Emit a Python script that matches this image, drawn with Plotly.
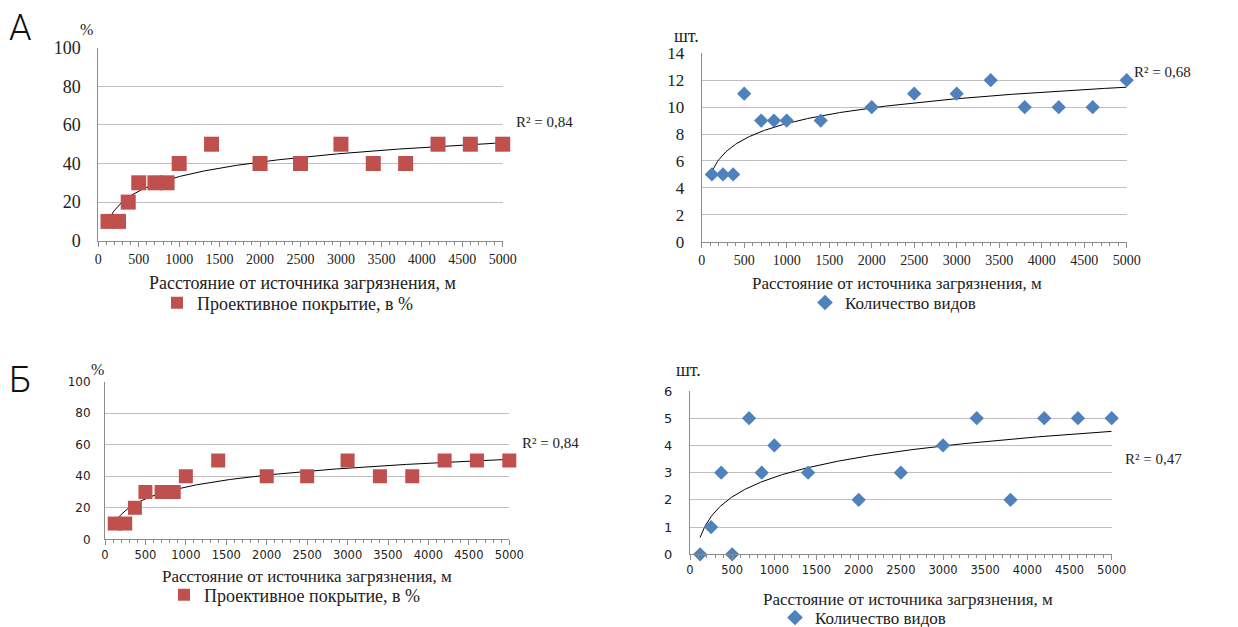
import numpy as np
import plotly.graph_objects as go

# page body has an 8px margin in the browser: the figure starts at (8, 8)
OFF = 8
W, H = 1238 - OFF, 627 - OFF

# ---------------- data ----------------
distance = [120, 250, 370, 500, 700, 850, 1000, 1400, 2000, 2500, 3000, 3400, 3800, 4200, 4600, 5000]
cover_A = [10, 10, 20, 30, 30, 30, 40, 50, 40, 40, 50, 40, 40, 50, 50, 50]
species_A = [5, 5, 5, 11, 9, 9, 9, 9, 10, 11, 11, 12, 10, 10, 10, 12]
cover_B = [10, 10, 20, 30, 30, 30, 40, 50, 40, 40, 50, 40, 40, 50, 50, 50]
species_B = [0, 1, 3, 0, 5, 3, 4, 3, 2, 3, 4, 5, 2, 5, 5, 5]
r2_labels = ["R² = 0,84", "R² = 0,68", "R² = 0,84", "R² = 0,47"]
x_ticks = list(range(0, 5001, 500))

RED = "#C0504D"
BLUE = "#4F81BD"
GRID = "#BFBFBF"
AXLINE = "#8C8C8C"
SERIF = "Liberation Serif"
SANS = "DejaVu Sans"


def px_x(p):
    return (p - OFF) / W


def px_y(p):
    return 1 - (p - OFF) / H


fig = go.Figure()

panels = [
    dict(y=cover_A, name="Проективное покрытие, в %", color=RED, symbol="square", size=15,
         dx=(98.3, 502.7), dy=(47.7, 240.7), ymax=100, ydt=20,
         xfont=dict(family=SERIF, size=14, color="#222"), yfont=dict(family=SERIF, size=18, color="#222"),
         ystand=13),
    dict(y=species_A, name="Количество видов", color=BLUE, symbol="diamond", size=11,
         dx=(701.7, 1126.7), dy=(53.3, 241.7), ymax=14, ydt=2,
         xfont=dict(family=SERIF, size=14, color="#222"), yfont=dict(family=SERIF, size=17, color="#222"),
         ystand=13),
    dict(y=cover_B, name="Проективное покрытие, в %", color=RED, symbol="square", size=14,
         dx=(105, 509.3), dy=(381.7, 539.3), ymax=100, ydt=20,
         xfont=dict(family=SANS, size=11.5, color="#222"), yfont=dict(family=SANS, size=12, color="#222"),
         ystand=11),
    dict(y=species_B, name="Количество видов", color=BLUE, symbol="diamond", size=11,
         dx=(690, 1111.7), dy=(391, 554.3), ymax=6, ydt=1,
         xfont=dict(family=SANS, size=11.5, color="#222"), yfont=dict(family=SANS, size=13, color="#222"),
         ystand=14),
]

legend_pos = [(177, 303), (825, 303), (184, 595), (795, 618)]
legend_font = [18, 17, 18, 17]
xtitle_pos = [(302, 283), (897, 283), (307, 576), (908, 599)]
xtitle_size = [18, 17, 17, 17]
r2_pos = [(544, 122), (1162, 72), (550, 443), (1153, 459)]
unit_text = ["%", "шт.", "%", "шт."]
unit_pos = [(86, 30), (686, 36), (97, 369), (688, 370)]
unit_size = [16, 18, 16, 18]

xs = np.array(distance, dtype=float)
xfit = np.linspace(xs.min(), xs.max(), 300)


def ann(x, y, text, font):
    fig.add_annotation(x=px_x(x), y=px_y(y), xref="paper", yref="paper", text=text,
                       showarrow=False, xanchor="center", yanchor="middle", font=font)


for i, p in enumerate(panels):
    k = "" if i == 0 else str(i + 1)
    xa, ya = "x" + k, "y" + k
    leg = "legend" + k
    ys = np.array(p["y"], dtype=float)
    a, b = np.polyfit(np.log(xs), ys, 1)
    fig.add_trace(go.Scatter(
        x=xfit, y=a * np.log(xfit) + b, mode="lines",
        line=dict(color="#000000", width=1), showlegend=False,
        xaxis=xa, yaxis=ya, hoverinfo="skip", cliponaxis=False))
    fig.add_trace(go.Scatter(
        x=distance, y=p["y"], mode="markers", name=p["name"],
        marker=dict(color=p["color"], symbol=p["symbol"], size=p["size"], line=dict(width=0)),
        xaxis=xa, yaxis=ya, legend=leg, cliponaxis=False))

    fig.update_layout(**{
        "xaxis" + k: dict(
            domain=[px_x(p["dx"][0]), px_x(p["dx"][1])], anchor=ya,
            range=[0, 5000], tickvals=x_ticks, showgrid=False, zeroline=False,
            showline=True, linecolor=AXLINE, linewidth=1,
            ticks="outside", ticklen=5, tickcolor=AXLINE,
            minor=dict(dtick=100, ticks="outside", ticklen=3, tickcolor=AXLINE, showgrid=False),
            tickfont=p["xfont"], fixedrange=True, automargin=False),
        "yaxis" + k: dict(
            domain=[px_y(p["dy"][1]), px_y(p["dy"][0])], anchor=xa,
            range=[0, p["ymax"]], dtick=p["ydt"], showgrid=True, gridcolor=GRID, gridwidth=1,
            zeroline=False, showline=True, linecolor=AXLINE, linewidth=1, ticks="",
            ticklabelstandoff=p["ystand"], tickfont=p["yfont"], fixedrange=True, automargin=False),
        leg: dict(
            x=px_x(legend_pos[i][0] - 20), y=px_y(legend_pos[i][1]), xanchor="left", yanchor="middle",
            bgcolor="rgba(0,0,0,0)", borderwidth=0, itemsizing="constant",
            font=dict(family=SERIF, size=legend_font[i], color="#222")),
    })

    ann(xtitle_pos[i][0], xtitle_pos[i][1], "Расстояние от источника загрязнения, м",
        dict(family=SERIF, size=xtitle_size[i], color="#222"))
    ann(r2_pos[i][0], r2_pos[i][1], r2_labels[i], dict(family=SERIF, size=15, color="#222"))
    ann(unit_pos[i][0], unit_pos[i][1], unit_text[i], dict(family=SERIF, size=unit_size[i], color="#222"))

# panel letters
for txt, (lx, ly) in zip(["А", "Б"], [(20, 28), (20, 380)]):
    ann(lx, ly, txt, dict(family="Roboto", size=36, color="#111", weight=300))

fig.update_layout(
    width=W, height=H, margin=dict(l=0, r=0, t=0, b=0, autoexpand=False),
    paper_bgcolor="white", plot_bgcolor="white",
    showlegend=True,
)

fig.write_html("out.html")
